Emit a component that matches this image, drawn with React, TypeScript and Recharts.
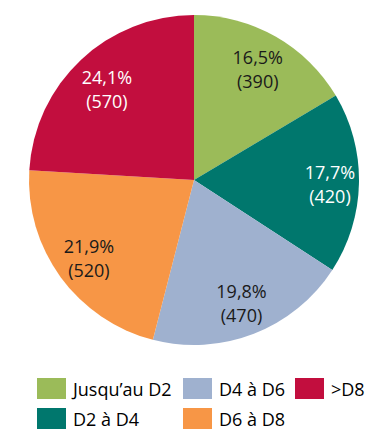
import React from 'react';
import { PieChart, Pie, Cell } from 'recharts';

const categories = ['Jusqu\u2019au D2', 'D2 à D4', 'D4 à D6', 'D6 à D8', '>D8'];
const counts = [390, 420, 470, 520, 570];
const percentLabels = ['16,5%', '17,7%', '19,8%', '21,9%', '24,1%'];

const colors = ['#9BBB59', '#00776D', '#9FB1CF', '#F79646', '#C20E3E'];
const labelColors = ['#1a1a1a', '#ffffff', '#1a1a1a', '#1a1a1a', '#ffffff'];
// per-slice label distance from centre (Excel best-fit look)
const labelRadius = [129, 136, 131, 130, 127];

const data = categories.map((name, i) => ({ name, value: counts[i] }));

const FONT = '"Open Sans", "Noto Sans", sans-serif';
const RADIAN = Math.PI / 180;

const renderLabel = (props: any) => {
  const { cx, cy, midAngle, index } = props;
  const r = labelRadius[index];
  const x = cx + r * Math.cos(-midAngle * RADIAN);
  const y = cy + r * Math.sin(-midAngle * RADIAN);
  return (
    <text
      x={x}
      y={y}
      fill={labelColors[index]}
      textAnchor="middle"
      fontFamily={FONT}
      fontSize={18}
    >
      <tspan x={x} dy={-4}>{percentLabels[index]}</tspan>
      <tspan x={x} dy={24}>{`(${counts[index]})`}</tspan>
    </text>
  );
};

const colX = [29, 175, 287];
const rowY = [370, 400];

const LegendBlock = () => (
  <>
    {categories.map((name, i) => {
      const col = Math.floor(i / 2);
      const row = i % 2;
      return (
        <div
          key={name}
          style={{
            position: 'absolute',
            left: colX[col],
            top: rowY[row],
            height: 21,
            display: 'flex',
            alignItems: 'center',
            fontFamily: FONT,
            fontSize: 18,
            color: '#000',
            whiteSpace: 'nowrap',
          }}
        >
          <span
            style={{
              display: 'inline-block',
              width: 29,
              height: 21,
              background: colors[i],
              marginRight: 7,
            }}
          />
          {name}
        </div>
      );
    })}
  </>
);

export default function App() {
  return (
    <div style={{ position: 'relative', width: 371, height: 438 }}>
      <PieChart width={371} height={438} margin={{ top: 0, right: 0, bottom: 0, left: 0 }}>
        <Pie
          data={data}
          dataKey="value"
          nameKey="name"
          cx={186}
          cy={172}
          outerRadius={165}
          startAngle={90}
          endAngle={-270}
          stroke="none"
          label={renderLabel}
          labelLine={false}
          isAnimationActive={false}
        >
          {data.map((d, i) => (
            <Cell key={d.name} fill={colors[i]} />
          ))}
        </Pie>
      </PieChart>
      <LegendBlock />
    </div>
  );
}
